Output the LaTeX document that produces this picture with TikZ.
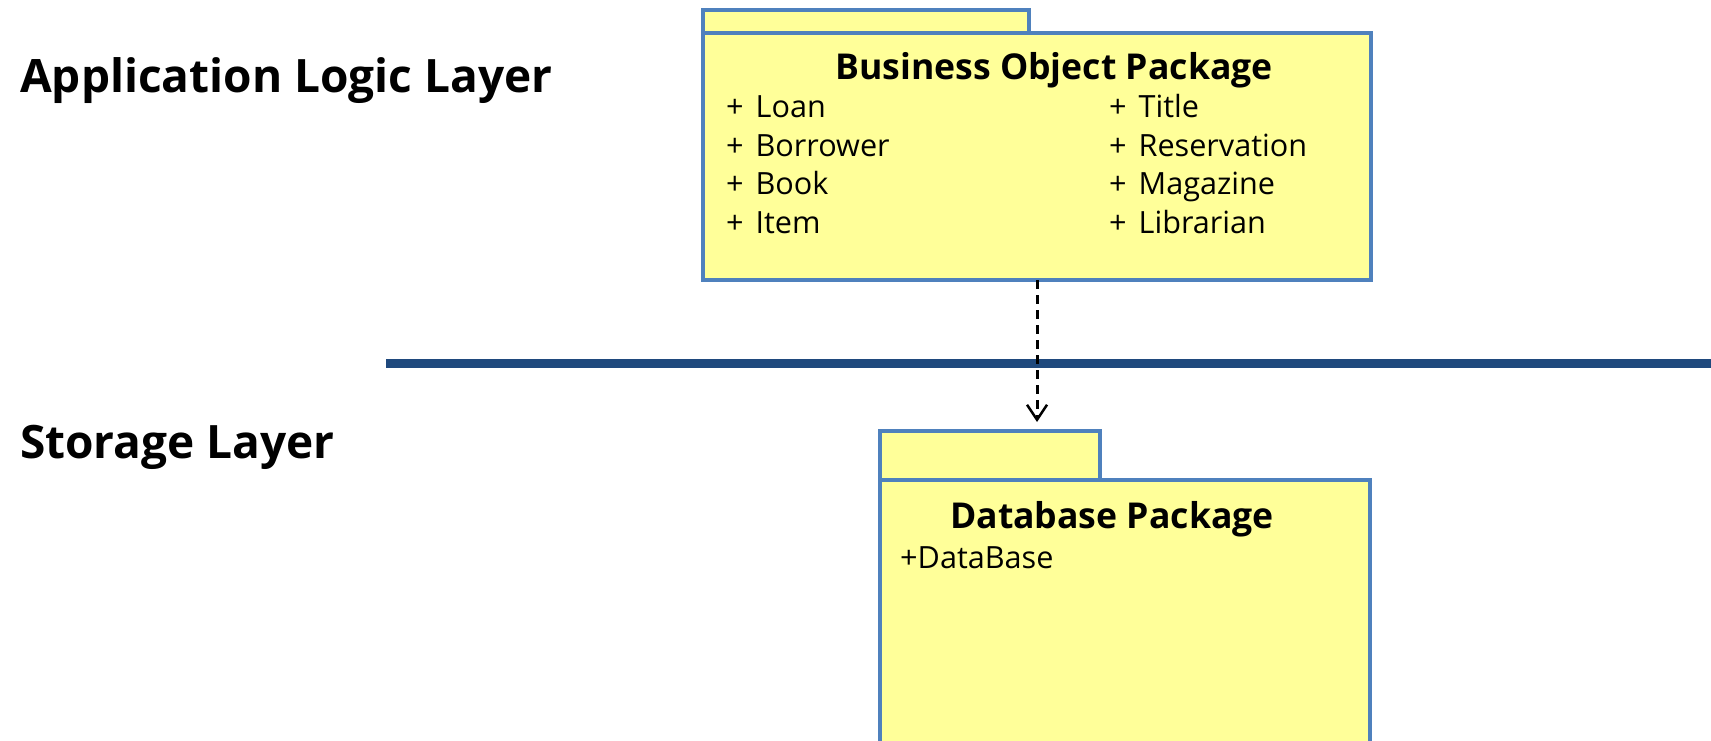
\documentclass[tikz,border=0pt]{standalone}
\usepackage{fontspec}
\setmainfont{Open Sans}
\usetikzlibrary{arrows.meta}
\definecolor{pkgfill}{HTML}{FFFF99}
\definecolor{pkgline}{HTML}{4F81BD}
\definecolor{layerline}{HTML}{1F497D}
\newcommand{\plusitem}[1]{+\kern4pt\ #1}
\tikzset{
 pkgbox/.style={draw=pkgline, fill=pkgfill, line width=4pt, inner sep=0pt, outer sep=0pt, anchor=north west, rectangle},
 pkgtitle/.style={font=\fontsize{35.6}{42}\selectfont\bfseries, anchor=base, inner sep=0pt},
 pkgitem/.style={font=\fontsize{30.6}{36}\selectfont, anchor=base west, inner sep=0pt},
 layerlabel/.style={font=\fontsize{46}{56}\selectfont\bfseries, anchor=base west, inner sep=0pt},
 dep/.style={dash pattern=on 9pt off 6pt, line width=3pt, -{Straight Barb[length=15pt, width=20pt, line width=2.5pt]}},
}
\begin{document}
\begin{tikzpicture}[x=1pt,y=-1pt]
\useasboundingbox (0,0) rectangle (1711,740);
\clip (0,0) rectangle (1711,740);
% layer labels
\node[layerlabel] (applayer) at (20,92) {Application Logic Layer};
\node[layerlabel] (storlayer) at (20,458) {Storage Layer};
% layer separator
\coordinate (sepL) at (386,363.5);
\coordinate (sepR) at (1711,363.5);
\draw[layerline, line width=9pt] (sepL) -- (sepR);
% Business Object Package
\node[pkgbox, minimum width=326pt, minimum height=23pt] (boptab) at (703,10) {};
\node[pkgbox, minimum width=668pt, minimum height=247pt] (bop) at (703,33) {};
\node[pkgtitle] (boptitle) at (1054,79) {Business Object Package};
\node[pkgitem] (i1) at (726,117) {\plusitem{Loan}};
\node[pkgitem] (i2) at (726,156) {\plusitem{Borrower}};
\node[pkgitem] (i3) at (726,194) {\plusitem{Book}};
\node[pkgitem] (i4) at (726,233) {\plusitem{Item}};
\node[pkgitem] (i5) at (1109,117) {\plusitem{Title}};
\node[pkgitem] (i6) at (1109,156) {\plusitem{Reservation}};
\node[pkgitem] (i7) at (1109,194) {\plusitem{Magazine}};
\node[pkgitem] (i8) at (1109,233) {\plusitem{Librarian}};
% Database Package
\node[pkgbox, minimum width=220pt, minimum height=49pt] (dbtab) at (880,431) {};
\node[pkgbox, minimum width=490pt, minimum height=290pt] (db) at (880,480) {};
\node[pkgtitle] (dbtitle) at (1112,528) {Database Package};
\node[pkgitem] (dbitem) at (900,568) {+DataBase};
% dependency
\draw[dep, shorten >=9pt] (bop.south) -- (bop.south |- dbtab.north);
\end{tikzpicture}
\end{document}
